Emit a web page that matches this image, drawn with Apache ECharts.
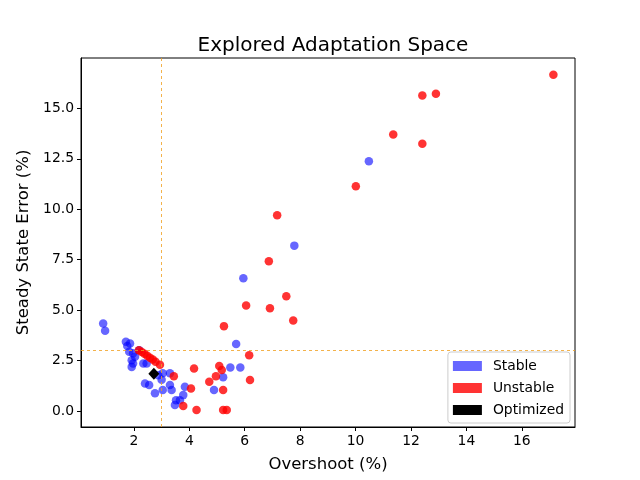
<!DOCTYPE html>
<html>
<head>
<meta charset="utf-8">
<script src="https://cdn.jsdelivr.net/npm/echarts@6/dist/echarts.min.js"></script>
<style>html,body{margin:0;padding:0;background:#fff}#c{width:640px;height:480px}</style>
</head>
<body>
<div id="c"></div>
<script>
const stableX = [0.89,0.96,1.71,1.76,1.83,1.97,2.19,2.04,2.34,1.92,1.97,1.92,2.46,1.86,2.40,2.55,2.76,2.88,3.04,3.30,3.04,3.30,3.36,3.00,3.84,3.78,3.66,3.48,3.52,5.69,5.48,5.84,5.22,4.89,5.95,7.79,10.48];
const stableY = [4.34,3.98,3.43,3.22,2.94,2.86,3.02,2.69,2.36,2.19,2.36,2.52,2.36,3.35,1.37,1.29,0.88,1.78,1.04,1.87,1.87,1.29,1.04,1.55,1.20,0.79,0.54,0.30,0.54,3.32,2.16,2.16,1.67,1.04,6.58,8.20,12.38];
const unstableX = [2.18,2.28,2.38,2.48,2.58,2.68,2.78,2.94,3.44,4.06,3.78,4.26,4.17,4.72,4.96,5.08,5.17,5.22,5.22,5.35,6.16,6.19,5.25,6.05,6.91,7.50,7.75,6.87,7.17,10.01,11.36,12.41,12.41,12.90,17.14];
const unstableY = [3.02,2.93,2.84,2.74,2.64,2.55,2.45,2.30,1.73,1.12,0.25,0.05,2.11,1.45,1.73,2.23,2.03,1.04,0.05,0.05,2.77,1.54,4.21,5.23,5.10,5.69,4.49,7.43,9.70,11.14,13.71,13.25,15.64,15.73,16.67];
const optimizedX = [2.72];
const optimizedY = [1.85];
const xTicks = [2,4,6,8,10,12,14,16];
const yTicks = [0,2.5,5,7.5,10,12.5,15];
const thresholdX = 3;
const thresholdY = 3;

const zip = (a,b) => a.map((v,i)=>[v,b[i]]);
const font = 'DejaVu Sans';
const chart = echarts.init(document.getElementById('c'), null, {renderer:'canvas'});
chart.setOption({
  animation:false,
  backgroundColor:'#fff',
  textStyle:{fontFamily:font},
  title:{text:'Explored Adaptation Space',left:328,top:31,textAlign:'center',
    textStyle:{fontFamily:font,fontSize:20,fontWeight:'normal',color:'#000'}},
  grid:{left:81,right:65,top:58,bottom:53,show:true,borderColor:'#000',borderWidth:1,backgroundColor:'transparent'},
  xAxis:{type:'value',min:0.09,max:17.92,
    name:'Overshoot (%)',nameLocation:'middle',nameGap:29,
    nameTextStyle:{fontFamily:font,fontSize:16.5,color:'#000'},
    axisLine:{show:true,onZero:false,lineStyle:{color:'#000',width:1}},
    axisTick:{show:true,inside:false,length:4,customValues:xTicks,lineStyle:{color:'#000'}},
    axisLabel:{customValues:xTicks,margin:7,fontFamily:font,fontSize:13.9,color:'#000',formatter:v=>String(v)},
    splitLine:{show:false}},
  yAxis:{type:'value',min:-0.79,max:17.5,
    name:'Steady State Error (%)',nameLocation:'middle',nameGap:45,
    nameTextStyle:{fontFamily:font,fontSize:16.5,color:'#000'},
    axisLine:{show:true,onZero:false,lineStyle:{color:'#000',width:1}},
    axisTick:{show:true,inside:false,length:4,customValues:yTicks,lineStyle:{color:'#000'}},
    axisLabel:{customValues:yTicks,margin:7,fontFamily:font,fontSize:13.9,color:'#000',formatter:v=>Number(v).toFixed(1)},
    splitLine:{show:false}},
  legend:{orient:'vertical',right:70,bottom:57,
    data:[{name:'Stable',icon:'rect'},{name:'Unstable',icon:'rect'},{name:'Optimized',icon:'rect'}],
    itemWidth:29,itemHeight:10,itemGap:8,
    padding:[7,6,6,5],
    borderColor:'#ccc',borderWidth:1,borderRadius:3,backgroundColor:'rgba(255,255,255,0.8)',
    textStyle:{fontFamily:font,fontSize:13.9,color:'#000',padding:[0,0,0,6]}},
  series:[
    {name:'Stable',type:'scatter',data:zip(stableX,stableY),symbol:'circle',symbolSize:8.5,
      itemStyle:{color:'#0000ff',opacity:0.6},
      markLine:{silent:true,symbol:'none',label:{show:false},
        lineStyle:{color:'#f0a020',type:[3,3],width:0.9,opacity:0.9},
        data:[{xAxis:thresholdX},{yAxis:thresholdY}]}},
    {name:'Unstable',type:'scatter',data:zip(unstableX,unstableY),symbol:'circle',symbolSize:8.5,
      itemStyle:{color:'#ff0000',opacity:0.8}},
    {name:'Optimized',type:'scatter',data:zip(optimizedX,optimizedY),symbol:'diamond',symbolSize:[11,12],
      itemStyle:{color:'#000',opacity:1}}
  ]
});
</script>
</body>
</html>
